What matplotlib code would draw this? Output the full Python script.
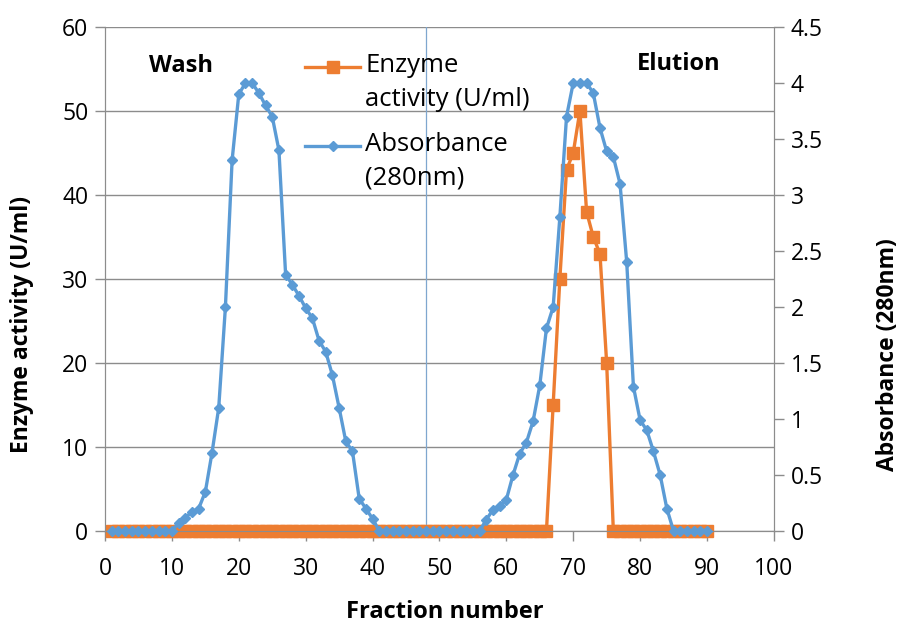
import matplotlib
matplotlib.use("Agg")
import matplotlib.pyplot as plt
import numpy as np

plt.rcParams['font.family'] = ['Open Sans', 'DejaVu Sans']

# fraction numbers 1..90
fractions = list(range(1, 91))

# enzyme activity (U/ml), zero except the elution peak
enzima_peak = {67: 15, 68: 30, 69: 43, 70: 45, 71: 50, 72: 38, 73: 35, 74: 33, 75: 20}
enzima = [enzima_peak.get(f, 0) for f in fractions]

# absorbance 280 nm
abs_peak = {
    11: 0.07, 12: 0.12, 13: 0.17, 14: 0.20, 15: 0.35, 16: 0.70, 17: 1.10, 18: 2.0,
    19: 3.31, 20: 3.90, 21: 4.0, 22: 4.0, 23: 3.91, 24: 3.80, 25: 3.70, 26: 3.40,
    27: 2.29, 28: 2.20, 29: 2.10, 30: 1.99, 31: 1.90, 32: 1.70, 33: 1.60, 34: 1.39,
    35: 1.10, 36: 0.80, 37: 0.71, 38: 0.29, 39: 0.20, 40: 0.11,
    57: 0.10, 58: 0.19, 59: 0.22, 60: 0.28, 61: 0.50, 62: 0.69, 63: 0.79, 64: 0.98,
    65: 1.30, 66: 1.81, 67: 2.0, 68: 2.80, 69: 3.70, 70: 4.0, 71: 4.0, 72: 4.0,
    73: 3.91, 74: 3.60, 75: 3.39, 76: 3.34, 77: 3.10, 78: 2.40, 79: 1.29, 80: 0.99,
    81: 0.90, 82: 0.71, 83: 0.50, 84: 0.20,
}
absorbancia = [abs_peak.get(f, 0) for f in fractions]

separador = 48

azul = "#5B9BD5"
naranja = "#ED7D31"
gris = "#8C8C8C"

fig = plt.figure(figsize=(9.03, 6.25), dpi=100)
ax = fig.add_axes([0.1163, 0.1504, 0.857 - 0.1163, 0.9568 - 0.1504])
ax2 = ax.twinx()

# primary axis: enzyme activity
l1, = ax.plot(fractions, enzima, color=naranja, lw=2.4, marker='s', ms=8.4,
              label="Enzyme\nactivity (U/ml)", zorder=3, clip_on=False)
ax.axvline(separador, color="#7FA7CF", lw=0.9, zorder=2)
ax.set_xlim(0, 100)
ax.set_ylim(0, 60)
ax.set_xticks(range(0, 101, 10))
ax.set_yticks(range(0, 61, 10))
ax.grid(axis='y', color=gris, lw=1.0)
ax.set_axisbelow(True)

# secondary axis: absorbance
l2, = ax2.plot(fractions, absorbancia, color=azul, lw=2.4, marker='D', ms=5.0,
               label="Absorbance\n(280nm)", zorder=3, clip_on=False)
ax2.set_ylim(0, 4.5)
ax2.set_yticks([i * 0.5 for i in range(10)])
ax2.set_yticklabels(["0", "0.5", "1", "1.5", "2", "2.5", "3", "3.5", "4", "4.5"])

for a in (ax, ax2):
    a.tick_params(labelsize=16.5, length=7, color=gris, width=1.0, pad=5)
    for s in a.spines.values():
        s.set_color(gris)
    a.spines['top'].set_visible(False)
ax.tick_params(axis='x', pad=12)

ax.set_xlabel("Fraction number", fontsize=17, fontweight='bold')
ax.xaxis.set_label_coords(0.508, -0.137)
ax.set_ylabel("Enzyme activity (U/ml)", fontsize=16.5, fontweight='bold')
ax.yaxis.set_label_coords(-0.106, 0.41)
ax2.set_ylabel("Absorbance (280nm)", fontsize=16.5, fontweight='bold')
ax2.yaxis.set_label_coords(1.152, 0.35)

ax.text(11.3, 55.4, "Wash", fontsize=17, fontweight='bold', ha='center', va='center')
ax.text(85.7, 55.6, "Elution", fontsize=17, fontweight='bold', ha='center', va='center')

fs_leg = 18.5
leg = ax2.legend(handles=[l1, l2], loc='upper left',
                 bbox_to_anchor=(305 / 903, 1 - 53 / 625), bbox_transform=fig.transFigure,
                 frameon=False, fontsize=fs_leg, handlelength=2.15, handletextpad=0.2,
                 labelspacing=0.8, borderpad=0, borderaxespad=0)
for t in leg.get_texts():
    t.set_linespacing(1.45)
# put each handle level with the first line of its label, as in the original
for ln in leg.get_lines():
    ln.set_ydata(np.asarray(ln.get_ydata()) + 0.62 * fs_leg)

fig.savefig("out.png", dpi=100)
